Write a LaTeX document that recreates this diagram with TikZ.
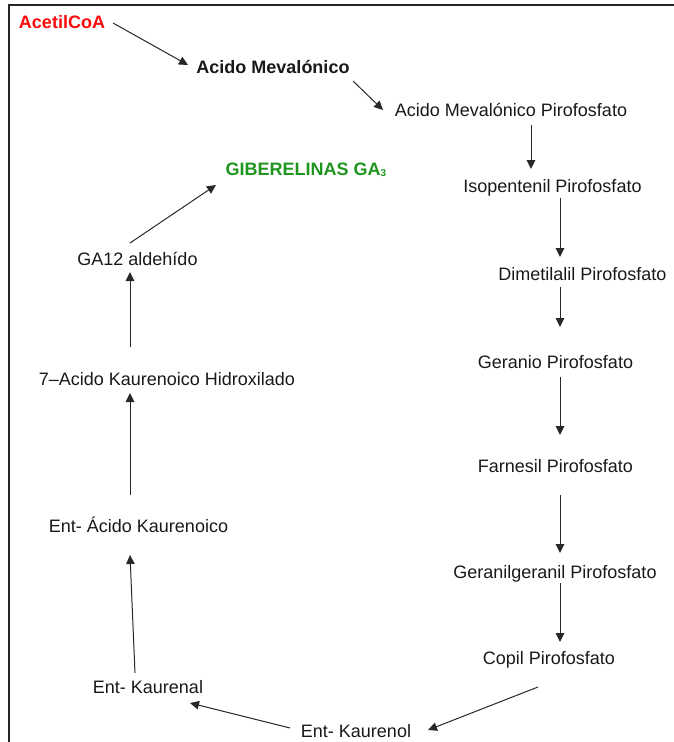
\documentclass[tikz,border=0pt]{standalone}
\usepackage{fontspec}
\setmainfont{Liberation Sans}
\usetikzlibrary{arrows.meta,calc}
\definecolor{txt}{RGB}{25,25,25}
\definecolor{lnc}{RGB}{40,40,40}
\definecolor{redt}{RGB}{250,10,10}
\definecolor{greent}{RGB}{30,150,30}
\begin{document}
\begin{tikzpicture}[x=1pt,y=-1pt,
  lbl/.style={anchor=base,inner sep=0pt,text=txt,font=\fontsize{18}{21}\selectfont},
  blbl/.style={lbl,font=\fontsize{18}{21}\selectfont\bfseries},
  arr/.style={draw=lnc,line width=1pt,-{Triangle[length=9pt,width=8.5pt]}},
  frame/.style={draw=black!85,line width=1.5pt}]
\useasboundingbox (0,0) rectangle (674,742);
\draw[frame] (9,742) -- (9,5) -- (674,5);

\node[blbl,text=redt] (acetil) at (62,28) {AcetilCoA};
\node[blbl] (acm) at (273,73) {Acido Mevalónico};
\node[lbl] (amp) at (511,116) {Acido Mevalónico Pirofosfato};
\node[lbl] (iso) at (552.5,192) {Isopentenil Pirofosfato};
\node[lbl] (dim) at (582.5,280) {Dimetilalil Pirofosfato};
\node[lbl] (ger) at (555.5,368) {Geranio Pirofosfato};
\node[lbl] (far) at (555.5,472) {Farnesil Pirofosfato};
\node[lbl] (gg) at (555,578) {Geranilgeranil Pirofosfato};
\node[lbl] (copil) at (549,664) {Copil Pirofosfato};
\node[lbl] (kol) at (356,737) {Ent- Kaurenol};
\node[lbl] (kal) at (148,693) {Ent- Kaurenal};
\node[lbl] (eak) at (138.5,532) {Ent- Ácido Kaurenoico};
\node[lbl] (hid) at (167,385) {7–Acido Kaurenoico Hidroxilado};
\node[lbl] (ga12) at (137.5,265) {GA12 aldehído};
\node[blbl,text=greent] (gib) at (306,175) {GIBERELINAS GA\raisebox{-1.5pt}{\fontsize{10}{10}\selectfont 3}};

\draw[arr] ($(acetil.base)+(51,-5)$) -- ($(acm.base)+(-85,-8)$);
\draw[arr] ($(acm.base)+(80,8)$) -- ($(amp.base)+(-128,-6)$);
\draw[arr] ($(amp.base)+(20,9)$) -- ($(iso.base)+(-21.5,-23)$);
\draw[arr] ($(iso.base)+(7.5,6)$) -- ($(dim.base)+(-22.5,-23)$);
\draw[arr] ($(dim.base)+(-22.5,7)$) -- ($(ger.base)+(4.5,-41)$);
\draw[arr] ($(ger.base)+(4.5,9)$) -- ($(far.base)+(4.5,-37)$);
\draw[arr] ($(far.base)+(4.5,23)$) -- ($(gg.base)+(5,-25)$);
\draw[arr] ($(gg.base)+(5,5)$) -- ($(copil.base)+(11,-22)$);
\draw[arr] ($(copil.base)+(-11,23)$) -- ($(kol.base)+(72,-7)$);
\draw[arr] ($(kol.base)+(-66,-9)$) -- ($(kal.base)+(42,10)$);
\draw[arr] ($(kal.base)+(-13,-20)$) -- ($(eak.base)+(-8.5,23)$);
\draw[arr] ($(eak.base)+(-8.5,-37)$) -- ($(hid.base)+(-37,8)$);
\draw[arr] ($(hid.base)+(-37,-38)$) -- ($(ga12.base)+(-7.5,7)$);
\draw[arr] ($(ga12.base)+(-7.5,-22)$) -- ($(gib.base)+(-90,10)$);
\end{tikzpicture}
\end{document}
